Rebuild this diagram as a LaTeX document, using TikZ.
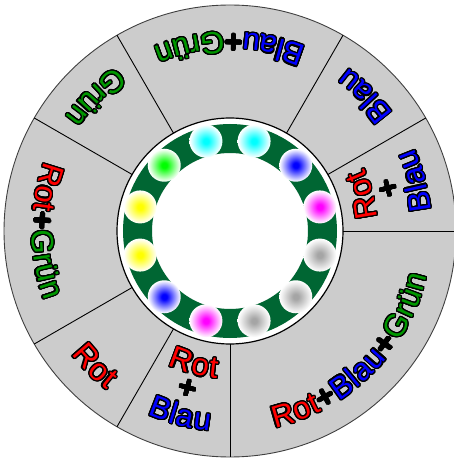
\documentclass[tikz,border=0pt]{standalone}
\usepackage{fontspec}
\newfontfamily\lsans{Liberation Sans}
\usepackage{contour}
\contourlength{1.2pt}
\contournumber{24}
\definecolor{ring}{RGB}{0,102,51}
\definecolor{seg}{RGB}{204,204,204}
\definecolor{grn}{RGB}{0,150,0}
\definecolor{lgray}{RGB}{165,165,165}
\definecolor{rd}{RGB}{255,0,0}
\definecolor{bl}{RGB}{0,0,255}
\colorlet{lcol}{red}
\pgfdeclareradialshading[lcol]{lamp}{\pgfpoint{0bp}{0bp}}{%
  color(0bp)=(lcol); color(4bp)=(lcol); color(21bp)=(lcol!18!white);
  color(25bp)=(white); color(50bp)=(white)}
\newcommand\labfont{\lsans\fontsize{31pt}{31pt}\selectfont}
\newcommand\rkSize{31}
% words: char / colour / advance width (Arial metrics, em)
\newcommand\wRot{R/rd/0.722,o/rd/0.556,t/rd/0.278}
\newcommand\wBlau{B/bl/0.667,l/bl/0.222,a/bl/0.556,u/bl/0.556}
\newcommand\wGruen{G/grn/0.778,r/grn/0.333,ü/grn/0.556,n/grn/0.556}
\newcommand\wPlus{+/black/0.584}
\tikzset{
  chr/.style={inner sep=0pt, anchor=base, font=\labfont},
  sepline/.style={draw=black, line width=0.9pt},
  rimline/.style={draw=black!75, line width=0.9pt},
  innerline/.style={draw=black, line width=1.2pt, fill=white},
}
% #1 centre angle, #2 radius of the letter centres, #3 list, #4 name
\newcommand\arclab[4]{%
  \edef\rkList{#3}%
  \gdef\rkTot{0}%
  \foreach \ch/\co/\w in \rkList {\pgfmathsetmacro\rkT{\rkTot+\w}\global\let\rkTot\rkT}%
  \gdef\rkCur{0}%
  \foreach \ch/\co/\w [count=\i] in \rkList {%
    \pgfmathsetmacro\ang{#1-(0.5*\rkTot-\rkCur-0.5*\w)*\rkSize/#2*180/pi}%
    \node[chr, rotate=\ang+90] (#4-\i) at (\ang:#2+11) {\color{\co}\contour{black}{\ch}};
    \pgfmathsetmacro\rkT{\rkCur+\w}\global\let\rkCur\rkT
  }%
}
\begin{document}
\begin{tikzpicture}[x=1pt,y=1pt]
\useasboundingbox (-230,-229) rectangle (224,231);
% grey wheel
\fill[seg] (0,0) circle (226);
\draw[rimline] (0,0) circle (226);
\foreach \a in {0,30,60,120,150,210,240,270}
  \draw[sepline] (\a:113) -- (\a:226);
% centre
\draw[innerline] (0,0) circle (113);
\fill[ring, even odd rule] (0,0) circle (107) circle (78);
\foreach \a/\c in {15/magenta,45/blue,75/cyan,105/cyan,135/green,165/yellow,
                   195/yellow,225/blue,255/magenta,285/lgray,315/lgray,345/lgray}
  {\begin{scope}
     \colorlet{lcol}{\c}
     \shade[shading=lamp] (\a:93) circle (16.5);
   \end{scope}}
% labels
\arclab{15}{137}{\wRot}{rbA1}
\arclab{15}{163}{\wPlus}{rbA2}
\arclab{15}{191}{\wBlau}{rbA3}
\arclab{45}{190}{\wBlau}{blau}
\arclab{90}{188}{\wBlau,\wPlus,\wGruen}{bg}
\arclab{135}{189}{\wGruen}{gruen}
\arclab{180}{187}{\wRot,\wPlus,\wGruen}{rg}
\arclab{225}{190}{\wRot}{rot}
\arclab{255}{137}{\wRot}{rbB1}
\arclab{255}{162}{\wPlus}{rbB2}
\arclab{255}{190}{\wBlau}{rbB3}
\arclab{315}{191}{\wRot,\wPlus,\wBlau,\wPlus,\wGruen}{rbg}
\end{tikzpicture}
\end{document}
